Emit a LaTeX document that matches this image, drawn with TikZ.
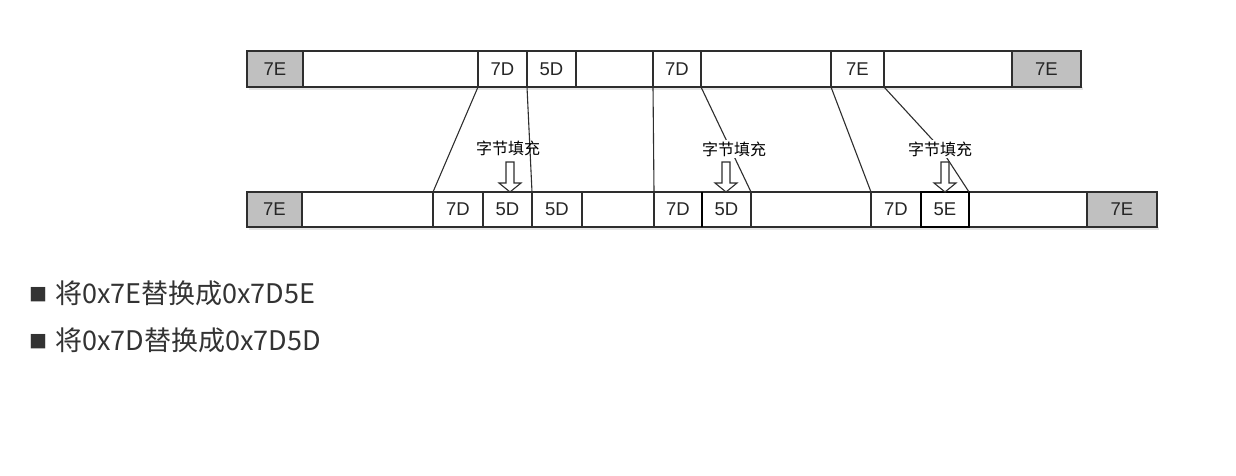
\documentclass[tikz,border=0pt]{standalone}
\usepackage{fontspec}
\setmainfont{Liberation Sans}
\newfontfamily\cjk{Noto Sans CJK SC}
\usetikzlibrary{calc}
\definecolor{cellgray}{HTML}{C0C0C0}
\definecolor{linec}{HTML}{2E2E2E}
\definecolor{txtc}{HTML}{333333}
\begin{document}
\begin{tikzpicture}[x=1pt,y=-1pt,
  cell/.style={draw=linec, line width=1.2pt, minimum height=36pt, inner sep=0pt, outer sep=0pt,
    font=\fontsize{18.5}{18.5}\selectfont, text=black!85},
  bcell/.style={cell, minimum height=35pt},
  gray cell/.style={fill=cellgray},
  conn/.style={draw=linec, line width=1.1pt},
  lbl/.style={font=\cjk\fontsize{16}{16}\selectfont, inner sep=1.5pt, text=black},
  bullet text/.style={anchor=base west, inner sep=0pt, text=txtc, font=\cjk\fontsize{27}{27}\selectfont},
  bullet mark/.style={anchor=base west, inner sep=0pt, text=txtc, font=\cjk\fontsize{18}{18}\selectfont},
  hollowdown/.pic={\draw[draw=linec, fill=white, line width=1.1pt, line join=miter]
     (0,0) -- (-11,-9) -- (-4,-9) -- (-4,-30) -- (4,-30) -- (4,-9) -- (11,-9) -- cycle;}
]
\useasboundingbox[fill=white] (0,0) rectangle (1236,476);

% shadows
\fill[black!10] (249,87) rectangle (1083,90);
\fill[black!10] (249,227) rectangle (1159,230);

% top row
\node[cell, gray cell, minimum width=56pt] (tA) at (275,69) {7E};
\node[cell, minimum width=175pt] (tB) at (390.5,69) {};
\node[cell, minimum width=49pt] (tC) at (502.5,69) {7D};
\node[cell, minimum width=49pt] (tD) at (551.5,69) {5D};
\node[cell, minimum width=77pt] (tE) at (614.5,69) {};
\node[cell, minimum width=48pt] (tF) at (677,69) {7D};
\node[cell, minimum width=130pt] (tG) at (766,69) {};
\node[cell, minimum width=53pt] (tH) at (857.5,69) {7E};
\node[cell, minimum width=128pt] (tI) at (948,69) {};
\node[cell, gray cell, minimum width=69pt] (tJ) at (1046.5,69) {7E};

% bottom row
\node[bcell, gray cell, minimum width=55pt] (bA) at (274.5,209.5) {7E};
\node[bcell, minimum width=131pt] (bB) at (367.5,209.5) {};
\node[bcell, minimum width=50pt] (bC) at (458,209.5) {7D};
\node[bcell, minimum width=49pt] (bD) at (507.5,209.5) {5D};
\node[bcell, minimum width=50pt] (bE) at (557,209.5) {5D};
\node[bcell, minimum width=72pt] (bF) at (618,209.5) {};
\node[bcell, minimum width=48pt] (bG) at (678,209.5) {7D};
\node[bcell, minimum width=49pt] (bH) at (726.5,209.5) {5D};
\node[bcell, minimum width=120pt] (bI) at (811,209.5) {};
\node[bcell, minimum width=50pt] (bJ) at (896,209.5) {7D};
\node[bcell, minimum width=118pt] (bL) at (1028,209.5) {};
\node[bcell, gray cell, minimum width=70pt] (bM) at (1122,209.5) {7E};
\node[bcell, minimum width=48pt, line width=1.9pt, draw=black] (bK) at (945,209.5) {5E};
\draw[line width=1.9pt, draw=black] (bH.north west) -- (bH.south west);

% connectors
\coordinate (bend) at (941,149);
\draw[conn] (tC.south west) -- (bC.north west);
\draw[conn] (tD.south west) -- (bE.north west);
\draw[conn] (tF.south west) -- (bG.north west);
\draw[conn] (tF.south east) -- (bH.north east);
\draw[conn] (tH.south west) -- (bJ.north west);
\draw[conn] (tH.south east) -- (bend) -- (bK.north east);

% labels
\node[lbl] (L1) at (508,148) {字节填充};
\node[lbl, fill=white] (L2) at (734,149) {字节填充};
\node[lbl, fill=white] (L3) at (940,149) {字节填充};

% hollow arrows
\pic at (510,192) {hollowdown};
\pic at (726,192) {hollowdown};
\pic at (945,192) {hollowdown};

% bullet lines
\node[bullet mark] (m1) at (29,301) {■};
\node[bullet text] (s1) at (55,303) {将0x7E替换成0x7D5E};
\node[bullet mark] (m2) at (29,348) {■};
\node[bullet text] (s2) at (55,350) {将0x7D替换成0x7D5D};
\end{tikzpicture}
\end{document}
